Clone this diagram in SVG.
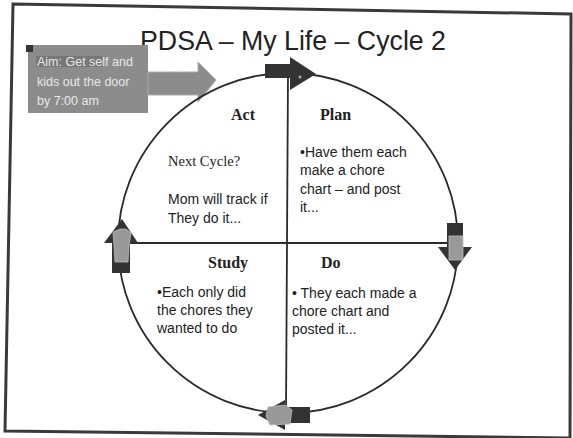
<svg xmlns="http://www.w3.org/2000/svg" width="573" height="438" viewBox="0 0 573 438">
<style>
.frame{fill:none;stroke:#3a3a3a;stroke-width:3}
.ln{stroke:#2a2a2a;stroke-width:1.8;fill:none}
.arr{fill:#333}
.ov{fill:#999;stroke:#bbb;stroke-width:0.8}
.hd{font-family:"Liberation Serif",serif;font-weight:bold;font-size:16px;fill:#222}
.sr{font-family:"Liberation Serif",serif;font-size:14.5px;fill:#222}
.tx{font-family:"Liberation Sans",sans-serif;font-size:14px;fill:#222}
.aim{font-family:"Liberation Sans",sans-serif;font-size:12.5px;fill:#e8e8e8}
</style>
<rect width="573" height="438" fill="#fff"/>
<polygon class="frame" points="13,4 571,14 570,438 5,431"/>
<text x="293" y="50" text-anchor="middle" font-family="Liberation Sans, sans-serif" font-size="27" fill="#222" textLength="306" lengthAdjust="spacingAndGlyphs">PDSA – My Life – Cycle 2</text>

<g id="aim">
<rect x="28" y="45" width="120" height="68" fill="#8c8c8c"/>
<rect x="26" y="45" width="7" height="7" fill="#333"/>
<polygon points="148,72 198,72 198,62 216,80 198,102 198,95 148,95" fill="#8c8c8c" stroke="#aaa" stroke-width="1"/>
<rect x="36" y="56" width="66" height="11" fill="#777"/>
<text class="aim" x="37" y="66">Aim: Get self and</text>
<text class="aim" x="37" y="86">kids out the door</text>
<text class="aim" x="37" y="105">by 7:00 am</text>
</g>

<g id="connectors">
<circle class="ln" cx="288" cy="243" r="170"/>
<line class="ln" x1="288" y1="73" x2="286" y2="413"/>
<line class="ln" x1="118" y1="243" x2="458" y2="243"/>
</g>

<g id="arrow-top">
<rect class="arr" x="265" y="64" width="26" height="14"/>
<polygon class="arr" points="290,57 316,74 290,90"/>
<circle cx="300" cy="77" r="1.5" fill="#aaa"/>
</g>
<g id="arrow-right">
<rect class="arr" x="447" y="223" width="16" height="25"/>
<polygon class="arr" points="438,247 472,247 455,270"/>
<rect class="ov" x="449" y="236" width="14" height="24"/>
</g>
<g id="arrow-bottom">
<rect class="arr" x="284" y="407" width="26" height="16"/>
<polygon class="arr" points="285,400 285,430 258,415"/>
<path class="ov" d="M268,407 L285,405 L292,410 L290,424 L270,425 L266,416 Z"/>
</g>
<g id="arrow-left">
<rect class="arr" x="112" y="243" width="18" height="30"/>
<polygon class="arr" points="104,243 138,243 122,219"/>
<path class="ov" d="M113,232 L120,229 L126,229 L131,233 L129,246 L128,262 L115,262 L114,246 Z"/>
</g>

<g id="act">
<text class="hd" x="243" y="120" text-anchor="middle">Act</text>
<text class="sr" x="168" y="166">Next Cycle?</text>
<text class="tx" x="168" y="204">Mom will track if</text>
<text class="tx" x="168" y="223">They do it...</text>
</g>
<g id="plan">
<text class="hd" x="320" y="120">Plan</text>
<text class="tx" x="300" y="157">•Have them each</text>
<text class="tx" x="300" y="175">make a chore</text>
<text class="tx" x="300" y="194">chart – and post</text>
<text class="tx" x="300" y="212">it...</text>
</g>
<g id="study">
<text class="hd" x="208" y="268">Study</text>
<text class="tx" x="157" y="297">•Each only did</text>
<text class="tx" x="157" y="315">the chores they</text>
<text class="tx" x="157" y="333">wanted to do</text>
</g>
<g id="do">
<text class="hd" x="321" y="268">Do</text>
<text class="tx" x="292" y="298">• They each made a</text>
<text class="tx" x="292" y="316">chore chart and</text>
<text class="tx" x="292" y="334">posted it...</text>
</g>
</svg>
